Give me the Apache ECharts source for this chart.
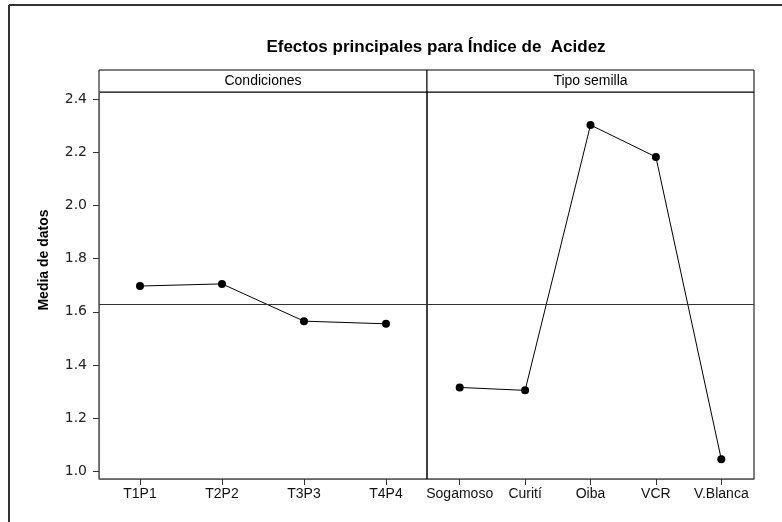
<!DOCTYPE html>
<html>
<head>
<meta charset="utf-8">
<script src="https://cdn.jsdelivr.net/npm/echarts@6/dist/echarts.min.js"></script>
<style>
  html, body { margin: 0; padding: 0; background: #fff; }
  #chart { width: 782px; height: 522px; }
</style>
</head>
<body>
<div id="chart"></div>
<script>
// datos
const condiciones = ["T1P1", "T2P2", "T3P3", "T4P4"];
const mediasCondiciones = [1.697, 1.705, 1.565, 1.555];
const semillas = ["Sogamoso", "Curití", "Oiba", "VCR", "V.Blanca"];
const mediasSemillas = [1.316, 1.305, 2.302, 2.182, 1.046];
const mediaGeneral = 1.63;
const yTicks = [1.0, 1.2, 1.4, 1.6, 1.8, 2.0, 2.2, 2.4];
const paneles = ["Condiciones", "Tipo semilla"];

// layout
const plotTop = 92;
const plotHeight = 387;
const panelLeft = [99, 427];
const panelWidth = [328, 327];
const headerTop = 70;
const headerHeight = 22;

var chart = echarts.init(document.getElementById("chart"));

function makeY(idx) {
  return {
    type: "value",
    gridIndex: idx,
    min: 0.972,
    max: 2.426,
    splitLine: { show: false },
    axisLine: { show: idx === 0, lineStyle: { color: "#666", width: 1 } },
    axisTick: {
      show: idx === 0,
      length: 6,
      customValues: yTicks,
      lineStyle: { color: "#333" },
    },
    axisLabel: {
      show: idx === 0,
      customValues: yTicks,
      margin: 12,
      fontFamily: "DejaVu Sans",
      fontSize: 14,
      color: "#222",
      formatter: function (v) {
        return v.toFixed(1);
      },
    },
  };
}

function makeX(idx, cats) {
  return {
    type: "category",
    gridIndex: idx,
    data: cats,
    boundaryGap: true,
    axisLine: { show: true, lineStyle: { color: "#666", width: 1 } },
    axisTick: {
      show: true,
      alignWithLabel: true,
      length: 6,
      lineStyle: { color: "#333" },
    },
    axisLabel: {
      margin: 8,
      fontFamily: "Liberation Sans",
      fontSize: 14,
      color: "#111",
      interval: 0,
    },
  };
}

function makeSerie(idx, data) {
  return {
    type: "line",
    xAxisIndex: idx,
    yAxisIndex: idx,
    data: data,
    symbol: "circle",
    symbolSize: 8,
    itemStyle: { color: "#000" },
    lineStyle: { color: "#000", width: 1 },
    animation: false,
    markLine: {
      silent: true,
      symbol: "none",
      label: { show: false },
      lineStyle: { color: "#333", width: 1, type: "solid" },
      data: [{ yAxis: mediaGeneral }],
    },
  };
}

var graphics = [
  // marco exterior (solo izquierda y arriba visibles)
  {
    type: "line",
    shape: { x1: 9, y1: 5, x2: 9, y2: 522 },
    style: { stroke: "#333", lineWidth: 2 },
  },
  {
    type: "line",
    shape: { x1: 9, y1: 5, x2: 782, y2: 5 },
    style: { stroke: "#333", lineWidth: 2 },
  },
  {
    type: "text",
    x: 436,
    y: 47,
    style: {
      text: "Efectos principales para Índice de  Acidez",
      font: "bold 17px 'Liberation Sans'",
      fill: "#000",
      align: "center",
      verticalAlign: "middle",
    },
  },
  {
    type: "text",
    x: 44,
    y: 260,
    rotation: Math.PI / 2,
    style: {
      text: "Media de datos",
      font: "bold 14px 'Liberation Sans'",
      fill: "#000",
      align: "center",
      verticalAlign: "middle",
    },
  },
];

paneles.forEach(function (p, i) {
  graphics.push({
    type: "rect",
    shape: {
      x: panelLeft[i],
      y: headerTop,
      width: panelWidth[i],
      height: headerHeight,
    },
    style: { fill: "#fff", stroke: "#000", lineWidth: 1 },
  });
  graphics.push({
    type: "text",
    x: panelLeft[i] + panelWidth[i] / 2,
    y: headerTop + headerHeight / 2,
    style: {
      text: p,
      font: "14px 'Liberation Sans'",
      fill: "#000",
      align: "center",
      verticalAlign: "middle",
    },
  });
});

var option = {
  backgroundColor: "#fff",
  animation: false,
  grid: [0, 1].map(function (i) {
    return {
      left: panelLeft[i],
      top: plotTop,
      width: panelWidth[i],
      height: plotHeight,
      show: true,
      borderColor: "#000",
      borderWidth: 1,
      backgroundColor: "transparent",
    };
  }),
  xAxis: [makeX(0, condiciones), makeX(1, semillas)],
  yAxis: [makeY(0), makeY(1)],
  series: [makeSerie(0, mediasCondiciones), makeSerie(1, mediasSemillas)],
  graphic: graphics,
};

chart.setOption(option);
</script>
</body>
</html>
